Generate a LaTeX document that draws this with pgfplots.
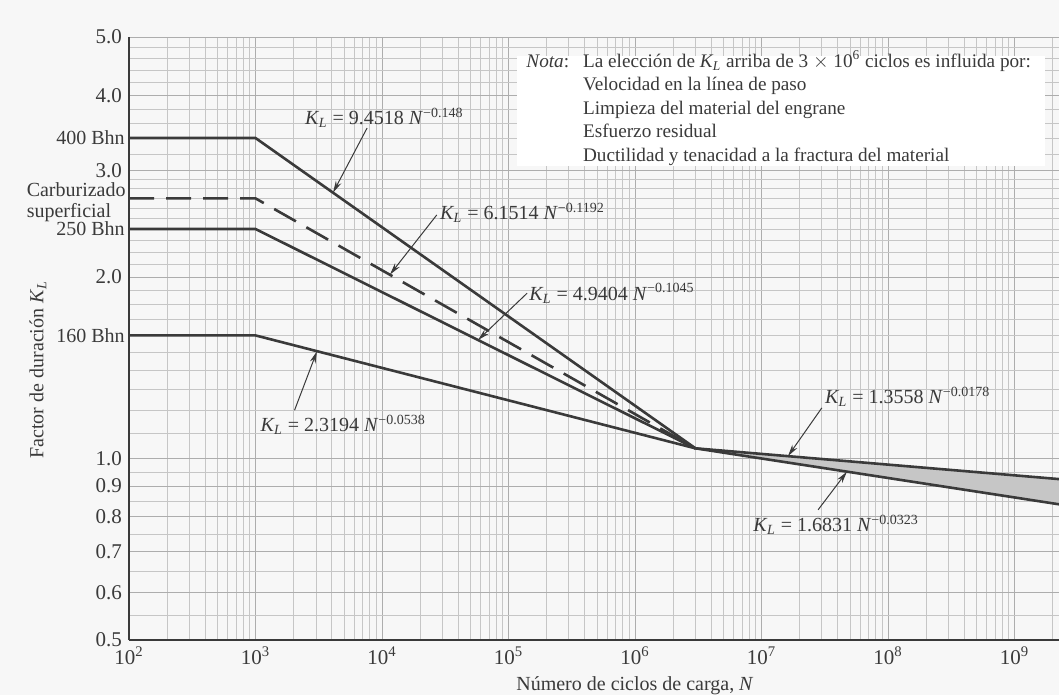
\documentclass[border=0pt]{standalone}
\usepackage{pgfplots}
\pgfplotsset{compat=1.18}
\usepackage{fontspec}
\setmainfont{Liberation Serif}
\usetikzlibrary{arrows.meta}
\definecolor{ink}{HTML}{3A3A3A}
\definecolor{gridc}{HTML}{C6C6C6}
\definecolor{gridm}{HTML}{ADADAD}
\definecolor{shade}{HTML}{C6C6C6}
\definecolor{paper}{HTML}{F7F7F7}
\newcommand{\KL}{\textit{K}\kern-0.3pt\textsubscript{\textit{L}}}
\begin{document}
\fontsize{10}{12}\selectfont
\begin{tikzpicture}
\useasboundingbox[fill=paper] (-64.5pt,-27.5pt) rectangle (465pt,320pt);
\begin{axis}[
  at={(0,0)}, anchor=south west,
  scale only axis, width=465pt, height=301.5pt,
  xmode=log, ymode=log,
  xmin=100, xmax=2.25e9, ymin=0.5, ymax=5,
  clip=false,
  axis x line*=bottom, axis y line*=left,
  axis line style={ink, line width=1.1pt},
  xtick={1e2,1e3,1e4,1e5,1e6,1e7,1e8,1e9},
  xticklabels={10\textsuperscript{2},10\textsuperscript{3},10\textsuperscript{4},10\textsuperscript{5},10\textsuperscript{6},10\textsuperscript{7},10\textsuperscript{8},10\textsuperscript{9}},
  minor xtick={200,300,400,500,600,700,800,900,
    2000,3000,4000,5000,6000,7000,8000,9000,
    2e4,3e4,4e4,5e4,6e4,7e4,8e4,9e4,
    2e5,3e5,4e5,5e5,6e5,7e5,8e5,9e5,
    2e6,3e6,4e6,5e6,6e6,7e6,8e6,9e6,
    2e7,3e7,4e7,5e7,6e7,7e7,8e7,9e7,
    2e8,3e8,4e8,5e8,6e8,7e8,8e8,9e8,2e9},
  ytick={0.5,0.6,0.7,0.8,0.9,1,2,3,4,5},
  yticklabels={0.5,0.6,0.7,0.8,0.9,1.0,2.0,3.0,4.0,5.0},
  minor ytick={0.55,0.65,0.75,0.85,0.95,1.1,1.2,1.3,1.4,1.5,1.6,1.7,1.8,1.9,
    2.1,2.2,2.3,2.4,2.5,2.6,2.7,2.8,2.9,3.2,3.4,3.6,3.8,4.2,4.4,4.6,4.8},
  grid=both,
  major grid style={gridm, line width=0.45pt},
  minor grid style={gridc, line width=0.35pt},
  major tick length=0pt, minor tick length=0pt,
  tick label style={font=\fontsize{10.5}{12}\selectfont, text=ink},
]
\addplot[draw=none, fill=shade, forget plot] coordinates {(3e6,1.0396) (2.25e9,0.9243) (2.25e9,0.8395) (3e6,1.0396)};
\addplot[ink, line width=1.3pt] coordinates {(100,3.400) (1000,3.400) (3e6,1.0399)};
\addplot[ink, line width=1.3pt, dash pattern=on 12.5pt off 6pt] coordinates {(100,2.700) (1000,2.700) (3e6,1.0394)};
\addplot[ink, line width=1.3pt] coordinates {(100,2.402) (1000,2.402) (3e6,1.0392)};
\addplot[ink, line width=1.3pt] coordinates {(100,1.600) (1000,1.600) (3e6,1.0396)};
\addplot[ink, line width=1.3pt] coordinates {(3e6,1.0396) (2.25e9,0.9243)};
\addplot[ink, line width=1.3pt] coordinates {(3e6,1.0396) (2.25e9,0.8395)};

% note box
\fill[white] (rel axis cs:0.417,0.786) rectangle (rel axis cs:0.985,0.968);
\node[anchor=base west, inner sep=0pt, text=ink, font=\fontsize{9.6}{11.75}\selectfont] at ([xshift=3.5pt]rel axis cs:0.4194,0.9502) {%
\begin{tabular}[t]{@{}l@{\hspace{7pt}}l@{}}
\textit{Nota}: & La elección de \KL{} arriba de 3 $\times$ 10\textsuperscript{6} ciclos es influida por:\\
 & Velocidad en la línea de paso\\
 & Limpieza del material del engrane\\
 & Esfuerzo residual\\
 & Ductilidad y tenacidad a la fractura del material
\end{tabular}};

% left labels
\begin{scope}[every node/.style={text=ink, inner sep=0pt}]
\node[anchor=east, xshift=-2pt] at (axis cs:100,3.4) {400 Bhn};
\node[anchor=east, xshift=-1.5pt, align=left, font=\fontsize{10}{10.5}\selectfont] at (rel axis cs:0,0.7255) {Carburizado\\superficial};
\node[anchor=east, xshift=-2pt] at (axis cs:100,2.402) {250 Bhn};
\node[anchor=east, xshift=-2pt] at (axis cs:100,1.6) {160 Bhn};
\node[rotate=90, anchor=center] at ([xshift=-45.5pt]rel axis cs:0,0.448) {Factor de duración \KL};
\node[anchor=center] at ([yshift=-23pt]rel axis cs:0.544,0) {Número de ciclos de carga, \textit{N}};
\end{scope}

% annotations
\begin{scope}[every node/.style={text=ink, inner sep=0pt, anchor=west}]
\node at (rel axis cs:0.189,0.866) {\KL{} = 9.4518 \textit{N}\textsuperscript{−0.148}};
\node at (rel axis cs:0.334,0.708) {\KL{} = 6.1514 \textit{N}\textsuperscript{−0.1192}};
\node at (rel axis cs:0.430,0.575) {\KL{} = 4.9404 \textit{N}\textsuperscript{−0.1045}};
\node at (rel axis cs:0.141,0.357) {\KL{} = 2.3194 \textit{N}\textsuperscript{−0.0538}};
\node at (rel axis cs:0.748,0.403) {\KL{} = 1.3558 \textit{N}\textsuperscript{−0.0178}};
\node at (rel axis cs:0.671,0.191) {\KL{} = 1.6831 \textit{N}\textsuperscript{−0.0323}};
\end{scope}
\begin{scope}[ink, line width=0.5pt, -{Stealth[length=6pt,width=3pt]}]
\draw (rel axis cs:0.256,0.849) -- (axis cs:4100,2.759);
\draw (rel axis cs:0.331,0.705) -- (axis cs:11560,2.018);
\draw (rel axis cs:0.428,0.575) -- (axis cs:57400,1.572);
\draw (rel axis cs:0.178,0.381) -- (axis cs:3062,1.506);
\draw (rel axis cs:0.745,0.385) -- (axis cs:1.62e7,1.0089);
\draw (rel axis cs:0.741,0.216) -- (axis cs:4.74e7,0.9508);
\end{scope}
\end{axis}
\end{tikzpicture}
\end{document}
